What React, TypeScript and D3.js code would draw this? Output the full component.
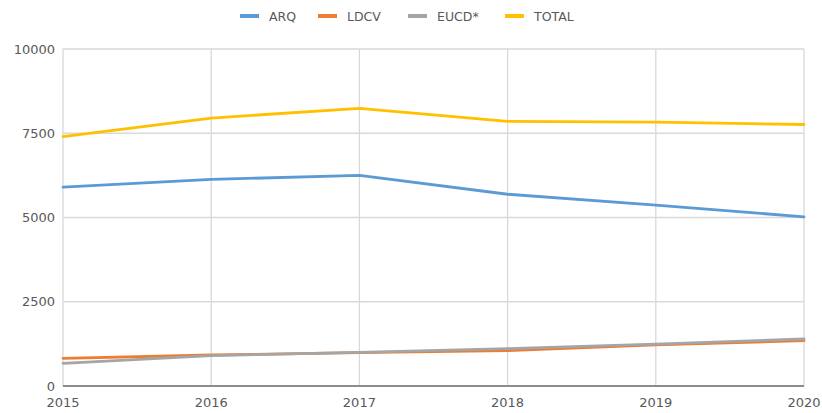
import React from "react";
import * as d3 from "d3";

const years = [2015, 2016, 2017, 2018, 2019, 2020];
const yTicks = [0, 2500, 5000, 7500, 10000];
const seriesNames = ["ARQ", "LDCV", "EUCD*", "TOTAL"];
const seriesColors = ["#5B9BD5", "#ED7D31", "#A5A5A5", "#FFC000"];
const arq = [5900, 6130, 6250, 5690, 5370, 5020];
const ldcv = [822, 920, 990, 1050, 1220, 1345];
const eucd = [674, 900, 1000, 1110, 1240, 1395];
const total = [7400, 7950, 8240, 7850, 7830, 7760];
const seriesValues = [arq, ldcv, eucd, total];
const legendX = [240, 318, 408, 505];

export default function App() {
  const W = 822, H = 413;
  const x = d3.scaleLinear().domain([2015, 2020]).range([63, 804]);
  const y = d3.scaleLinear().domain([0, 10000]).range([386, 49]);
  const line = d3.line<number>().x((_, i) => x(years[i])).y((d) => y(d));
  const font = "'DejaVu Sans', Verdana, sans-serif";
  return (
    <svg width={W} height={H} style={{ position: "absolute", left: 0, top: 0, background: "#fff" }}>
      <rect width={W} height={H} fill="#fff" />
      {yTicks.filter((t) => t > 0).map((t) => (
        <line key={"gy" + t} x1={63} x2={804} y1={y(t)} y2={y(t)} stroke="#d9d9d9" strokeWidth={1.3} />
      ))}
      {years.map((yr) => (
        <line key={"gx" + yr} x1={x(yr)} x2={x(yr)} y1={49} y2={386} stroke="#d9d9d9" strokeWidth={1.3} />
      ))}
      <line x1={63} x2={804} y1={386} y2={386} stroke="#8c8c8c" strokeWidth={2} />
      {yTicks.map((t) => (
        <text key={"ty" + t} x={55} y={y(t) + 4.5} textAnchor="end" fontFamily={font} fontSize={13} fill="#595959">
          {t}
        </text>
      ))}
      {years.map((yr) => (
        <text key={"tx" + yr} x={x(yr)} y={407} textAnchor="middle" fontFamily={font} fontSize={13} fill="#595959">
          {yr}
        </text>
      ))}
      {seriesValues.map((vals, i) => (
        <path key={"s" + i} d={line(vals) || ""} fill="none" stroke={seriesColors[i]} strokeWidth={2.8} strokeLinejoin="round" strokeLinecap="round" />
      ))}
      {seriesNames.map((n, i) => (
        <g key={"lg" + i}>
          <line x1={legendX[i]} x2={legendX[i] + 19} y1={16} y2={16} stroke={seriesColors[i]} strokeWidth={4} />
          <text x={legendX[i] + 29} y={20.5} fontFamily={font} fontSize={12.5} fill="#595959">
            {n}
          </text>
        </g>
      ))}
    </svg>
  );
}
